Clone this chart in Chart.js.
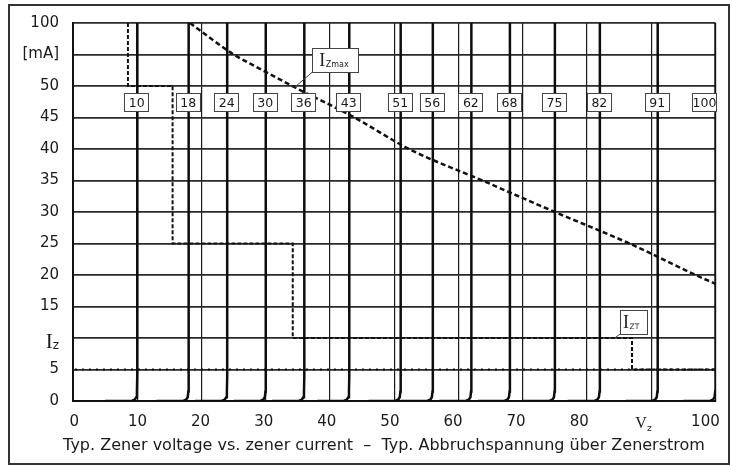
<!DOCTYPE html>
<html>
<head>
<meta charset="utf-8">
<script src="https://cdn.jsdelivr.net/npm/chart.js@4.4.1/dist/chart.umd.min.js"></script>
<style>
  html, body { margin: 0; padding: 0; background: #fff; }
  #wrap { position: relative; width: 732px; height: 466px; }
</style>
</head>
<body>
<div id="wrap"><canvas id="chart" width="732" height="466"></canvas></div>
<script>
// breakdown voltages of the zener curves [V]
const zenerVolts = [10, 18, 24, 30, 36, 43, 51, 56, 62, 68, 75, 82, 91, 100];
const kneeDV = [-5, -0.8, -0.4, -0.15, -0.05, 0, 0];
const kneeI = [0, 0.05, 0.2, 0.6, 1.5, 4, 60];

// y axis has 13 even rows, the two upper ones are squeezed (.. 50, 75, 100 mA)
const yTickLabels = ['0', '5', '', '15', '20', '25', '30', '35', '40', '45', '50', '[mA]', '100'];
const boxLevel = 47.4; // row where the voltage boxes sit

// I_Zmax curve
const izmaxV = [18.2, 25, 27.5, 34.5, 43.8, 52.3, 63.7, 75, 86.6, 96.9, 100];
const izmaxI = [60, 55, 53.6, 49.8, 45, 40, 35, 30, 25, 20, 18.6];

// I_ZT steps
const iztV = [8.55, 8.55, 15.5, 15.5, 34.2, 34.2, 87, 87, 100];
const iztI = [60, 50, 50, 25, 25, 10, 10, 5, 5];

// dotted 5 mA line
const lowV = [0.3, 100];
const lowI = [5, 5];

const xTitle = 'Typ. Zener voltage vs. zener current  \u2013  Typ. Abbruchspannung \u00fcber Zenerstrom';

const FONT = '"DejaVu Sans", Verdana, sans-serif';
const SERIF = '"Liberation Serif", "DejaVu Serif", serif';

function pts(xs, ys) {
  return xs.map((v, i) => ({ x: v, y: ys[i] }));
}

const datasets = [];
zenerVolts.forEach(v => {
  datasets.push({
    data: pts(kneeDV.map(d => v + d), kneeI),
    borderColor: '#0d0d0d',
    borderWidth: 2.5,
    pointRadius: 0,
    tension: 0
  });
});
datasets.push({
  data: pts(lowV, lowI),
  borderColor: '#111',
  borderWidth: 2.2,
  borderDash: [2, 5],
  pointRadius: 0
});
datasets.push({
  data: pts(iztV, iztI),
  borderColor: '#111',
  borderWidth: 2,
  borderDash: [4, 2],
  pointRadius: 0
});
datasets.push({
  data: pts(izmaxV, izmaxI),
  borderColor: '#111',
  borderWidth: 2.5,
  borderDash: [5, 3],
  pointRadius: 0,
  cubicInterpolationMode: 'monotone'
});

function tagBox(ctx, bx, by, w, h, ax, ay, sub, subSize) {
  ctx.strokeStyle = '#444';
  ctx.lineWidth = 1;
  ctx.beginPath();
  ctx.moveTo(bx, by + h);
  ctx.lineTo(ax, ay);
  ctx.stroke();
  ctx.fillStyle = '#fff';
  ctx.fillRect(bx, by, w, h);
  ctx.strokeRect(Math.round(bx) + 0.5, Math.round(by) + 0.5, w, h);
  ctx.fillStyle = '#222';
  ctx.textAlign = 'left';
  ctx.textBaseline = 'alphabetic';
  ctx.font = '18px ' + SERIF;
  const ix = bx + (w - 6 - ctx.measureText('I').width - sub.length * subSize * 0.62) / 2;
  ctx.fillText('I', ix, by + 18);
  const iw = ctx.measureText('I').width;
  ctx.font = subSize + 'px ' + FONT;
  ctx.fillText(sub, ix + iw + 0.5, by + 18.5);
}

const labelPlugin = {
  id: 'zenerLabels',
  afterDatasetsDraw(chart) {
    const { ctx, chartArea, scales } = chart;
    const x = scales.x, y = scales.y, xl = scales.xl;
    ctx.save();

    // voltage boxes
    const by = y.getPixelForValue(boxLevel);
    ctx.font = '12.5px ' + FONT;
    ctx.textAlign = 'center';
    ctx.textBaseline = 'middle';
    zenerVolts.forEach(v => {
      const cx = Math.min(x.getPixelForValue(v) - 1, chartArea.right - 11.5);
      const left = Math.round(cx - 12);
      const top = Math.round(by - 9);
      ctx.fillStyle = '#fff';
      ctx.fillRect(left, top, 24, 18);
      ctx.strokeStyle = '#444';
      ctx.lineWidth = 1;
      ctx.strokeRect(left + 0.5, top + 0.5, 24, 18);
      ctx.fillStyle = '#1a1a1a';
      ctx.fillText(String(v), cx + 0.5, by + 1);
    });

    // I_Zmax and I_ZT tags
    const azx = x.getPixelForValue(34.5), azy = y.getPixelForValue(49.8);
    tagBox(ctx, azx + 17.5, azy - 39, 46, 24, azx, azy, 'Zmax', 8);
    const atx = x.getPixelForValue(84.3), aty = y.getPixelForValue(10);
    tagBox(ctx, atx + 5.5, aty - 28, 27, 24, atx, aty, 'ZT', 7.5);

    // I_z on the y axis
    ctx.fillStyle = '#1a1a1a';
    ctx.textAlign = 'right';
    ctx.textBaseline = 'alphabetic';
    const iy = y.getPixelForValue(10);
    ctx.font = '12px ' + FONT;
    ctx.fillText('z', chartArea.left - 14, iy + 11);
    const zw = ctx.measureText('z').width;
    ctx.font = '21px ' + SERIF;
    ctx.fillText('I', chartArea.left - 14 - zw, iy + 10);

    // V_z on the x axis
    ctx.textAlign = 'left';
    const vx = xl.getPixelForValue(90) - 3;
    ctx.font = '16px ' + SERIF;
    ctx.fillText('V', vx - 4, 428);
    const vw = ctx.measureText('V').width;
    ctx.font = '9px ' + FONT;
    ctx.fillText('z', vx - 4 + vw, 431);

    // caption under the axis
    ctx.textAlign = 'center';
    ctx.font = '16px ' + FONT;
    ctx.fillText(xTitle, 384, 450);
    ctx.restore();
  },
  afterDraw(chart) {
    const ctx = chart.ctx;
    ctx.save();
    ctx.strokeStyle = '#333';
    ctx.lineWidth = 2;
    ctx.strokeRect(9, 5, 720, 459);
    ctx.restore();
  }
};

new Chart(document.getElementById('chart'), {
  type: 'line',
  data: { datasets: datasets },
  options: {
    responsive: false,
    animation: false,
    events: [],
    layout: { padding: { left: 10, top: 17, right: 16, bottom: 0 } },
    plugins: { legend: { display: false }, tooltip: { enabled: false } },
    scales: {
      x: {
        type: 'linear',
        position: 'bottom',
        min: 0,
        max: 100,
        ticks: { display: false, stepSize: 10 },
        grid: { color: '#1a1a1a', lineWidth: 1.2, drawTicks: false },
        border: { display: true, color: '#111', width: 2 },
        afterFit: s => { s.height = 0; }
      },
      xl: {
        type: 'linear',
        position: 'bottom',
        min: -0.22,
        max: 101.6,
        ticks: {
          stepSize: 10,
          includeBounds: false,
          padding: 12,
          color: '#1a1a1a',
          font: { family: FONT, size: 15 },
          callback: v => (v === 90 ? '' : String(v))
        },
        grid: { display: false, drawTicks: false },
        border: { display: false },
        afterFit: s => { s.height = 65; }
      },
      y: {
        min: 0,
        max: 60,
        ticks: {
          stepSize: 5,
          padding: 14,
          color: '#1a1a1a',
          font: { family: FONT, size: 15 },
          callback: v => yTickLabels[Math.round(v / 5)]
        },
        grid: { color: '#2a2a2a', lineWidth: 1.8, drawTicks: false },
        border: { display: true, color: '#111', width: 2 },
        afterFit: s => { s.width = 63; }
      }
    }
  },
  plugins: [labelPlugin]
});
</script>
</body>
</html>
